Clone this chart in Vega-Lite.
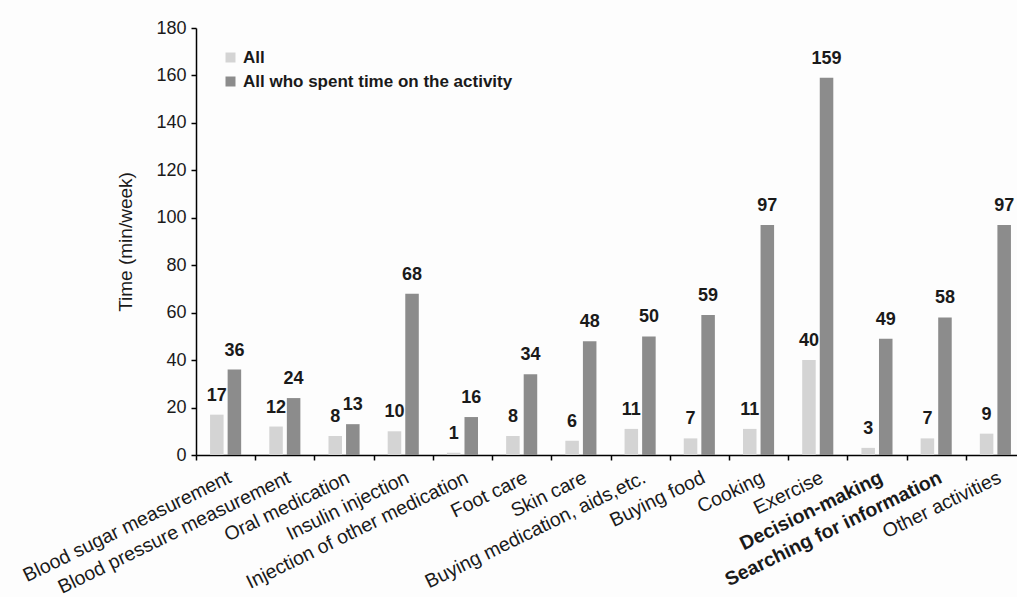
{
  "$schema": "https://vega.github.io/schema/vega-lite/v6.json",
  "width": 829,
  "height": 427,
  "autosize": "none",
  "padding": {"left": 196, "top": 28, "right": 0, "bottom": 142},
  "background": "#fdfdfd",
  "config": {
    "font": "Liberation Sans",
    "view": {"stroke": null}
  },
  "data": {
    "values": [
      {"activity": "Blood sugar measurement", "group": "All", "minutes": 17},
      {"activity": "Blood sugar measurement", "group": "All who spent time on the activity", "minutes": 36},
      {"activity": "Blood pressure measurement", "group": "All", "minutes": 12},
      {"activity": "Blood pressure measurement", "group": "All who spent time on the activity", "minutes": 24},
      {"activity": "Oral medication", "group": "All", "minutes": 8},
      {"activity": "Oral medication", "group": "All who spent time on the activity", "minutes": 13},
      {"activity": "Insulin injection", "group": "All", "minutes": 10},
      {"activity": "Insulin injection", "group": "All who spent time on the activity", "minutes": 68},
      {"activity": "Injection of other medication", "group": "All", "minutes": 1},
      {"activity": "Injection of other medication", "group": "All who spent time on the activity", "minutes": 16},
      {"activity": "Foot care", "group": "All", "minutes": 8},
      {"activity": "Foot care", "group": "All who spent time on the activity", "minutes": 34},
      {"activity": "Skin care", "group": "All", "minutes": 6},
      {"activity": "Skin care", "group": "All who spent time on the activity", "minutes": 48},
      {"activity": "Buying medication, aids,etc.", "group": "All", "minutes": 11},
      {"activity": "Buying medication, aids,etc.", "group": "All who spent time on the activity", "minutes": 50},
      {"activity": "Buying food", "group": "All", "minutes": 7},
      {"activity": "Buying food", "group": "All who spent time on the activity", "minutes": 59},
      {"activity": "Cooking", "group": "All", "minutes": 11},
      {"activity": "Cooking", "group": "All who spent time on the activity", "minutes": 97},
      {"activity": "Exercise", "group": "All", "minutes": 40},
      {"activity": "Exercise", "group": "All who spent time on the activity", "minutes": 159},
      {"activity": "Decision-making", "group": "All", "minutes": 3},
      {"activity": "Decision-making", "group": "All who spent time on the activity", "minutes": 49},
      {"activity": "Searching for information", "group": "All", "minutes": 7},
      {"activity": "Searching for information", "group": "All who spent time on the activity", "minutes": 58},
      {"activity": "Other activities", "group": "All", "minutes": 9},
      {"activity": "Other activities", "group": "All who spent time on the activity", "minutes": 97}
    ]
  },
  "encoding": {
    "x": {
      "field": "activity",
      "type": "nominal",
      "sort": null,
      "scale": {"paddingInner": 0, "paddingOuter": 0},
      "axis": {
        "title": null,
        "labelAngle": -26,
        "labelFontSize": 19.5,
        "labelLimit": 400,
        "labelColor": "#1a1a1a",
        "labelFontWeight": {
          "condition": {"test": "datum.value == 'Decision-making' || datum.value == 'Searching for information'", "value": "bold"},
          "value": "normal"
        },
        "labelPadding": 8,
        "domainColor": "#000000",
        "domainWidth": 1.5,
        "tickColor": "#000000",
        "tickBand": "extent",
        "tickSize": 5,
        "tickWidth": 1.5
      }
    },
    "xOffset": {
      "field": "group",
      "type": "nominal",
      "sort": ["All", "All who spent time on the activity"],
      "scale": {"paddingInner": 0.23, "paddingOuter": 0.8}
    },
    "y": {
      "field": "minutes",
      "type": "quantitative",
      "scale": {"domain": [0, 180], "nice": false},
      "axis": {
        "title": "Time (min/week)",
        "titleFontSize": 19,
        "titleFontWeight": "normal",
        "titleColor": "#1a1a1a",
        "titlePadding": 20,
        "values": [0, 20, 40, 60, 80, 100, 120, 140, 160, 180],
        "grid": false,
        "labelFontSize": 18,
        "labelColor": "#1a1a1a",
        "labelPadding": 5,
        "domainColor": "#000000",
        "domainWidth": 1.5,
        "tickColor": "#000000",
        "tickSize": 5,
        "tickWidth": 1.5
      }
    }
  },
  "layer": [
    {
      "mark": {"type": "bar"},
      "encoding": {
        "color": {
          "field": "group",
          "type": "nominal",
          "sort": ["All", "All who spent time on the activity"],
          "scale": {"domain": ["All", "All who spent time on the activity"], "range": ["#d4d4d4", "#8c8c8c"]},
          "legend": {
            "title": null,
            "orient": "none",
            "legendX": 26,
            "legendY": 21,
            "symbolType": "square",
            "symbolSize": 100,
            "symbolStrokeWidth": 0,
            "labelFontSize": 17,
            "labelFontWeight": "bold",
            "labelLimit": 400,
            "labelColor": "#1a1a1a",
            "labelOffset": 4,
            "rowPadding": 6
          }
        }
      }
    },
    {
      "mark": {"type": "text", "dy": -19, "fontSize": 18, "fontWeight": "bold", "color": "#1a1a1a"},
      "encoding": {
        "text": {"field": "minutes", "type": "quantitative"}
      }
    }
  ]
}
